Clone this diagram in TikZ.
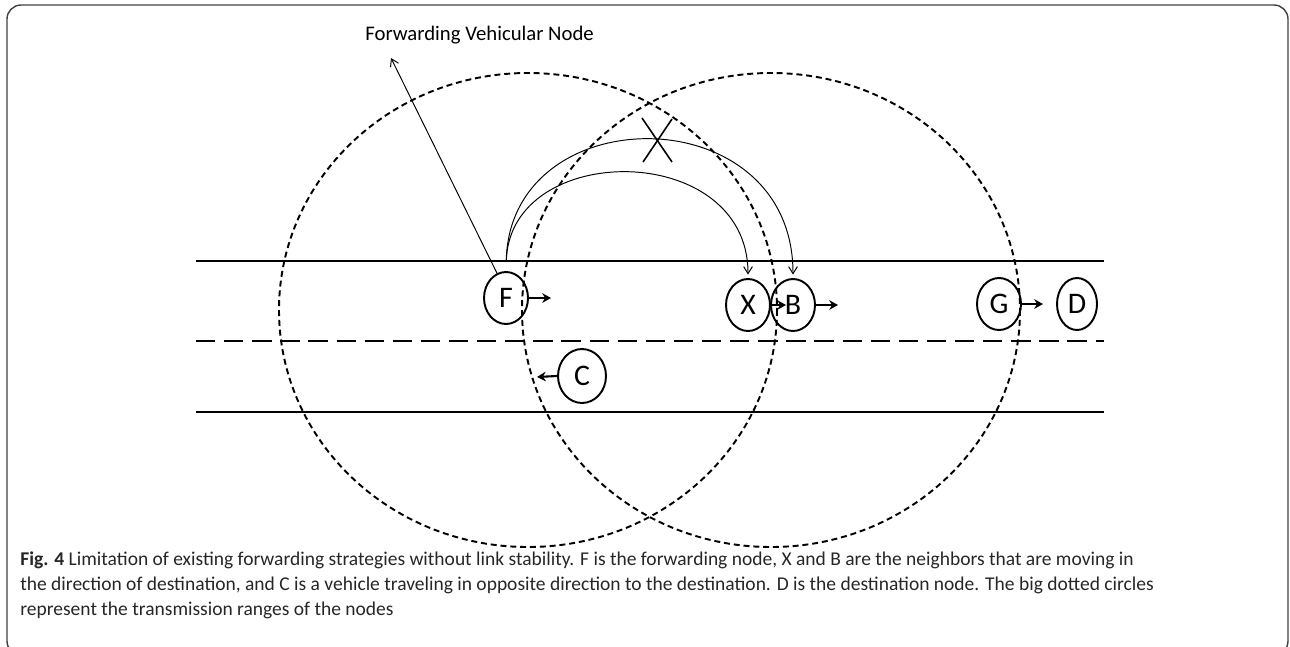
\documentclass[tikz,border=0pt]{standalone}
\usepackage{fontspec}
\setmainfont{Carlito}
\usetikzlibrary{shapes.geometric,arrows.meta}
\begin{document}
\begin{tikzpicture}[x=0.02cm,y=-0.02cm,
  veh/.style={draw, ellipse, line width=1.1pt, inner sep=0pt, minimum width=0.88cm, minimum height=1.04cm, font=\fontsize{17}{17}\selectfont},
  roadline/.style={line width=1.6pt},
  txrange/.style={line width=1.1pt, dash pattern=on 3.4pt off 2.2pt},
  vmove/.style={line width=1.2pt, -{Stealth[length=5pt,width=5.5pt]}},
  hoparc/.style={line width=0.55pt, -{Straight Barb[length=4pt,width=5pt]}},
  captxt/.style={anchor=base west, inner sep=0pt, font=\fontsize{11.1}{12}\selectfont, text=black!85}]
\useasboundingbox (0,0) rectangle (1290,646);
\begin{scope}
\clip (0,0) rectangle (1290,646);
\draw[line width=0.8pt, black!75, rounded corners=8pt] (7,5) rectangle (1288,655);
\end{scope}
% road
\draw[roadline] (196,261) -- (1104,261);
\draw[roadline] (196,412) -- (1104,412);
\draw[roadline, dash pattern=on 11pt off 5pt] (196,341) -- (1104,341);
% transmission ranges
\draw[txrange] (528,310) ellipse [x radius=249, y radius=237];
\draw[txrange] (771,310) ellipse [x radius=249, y radius=237];
% vehicles
\node[veh] (F) at (506,298) {F};
\node[veh] (X) at (748,305) {X};
\node[veh] (B) at (793,305) {B};
\node[veh] (G) at (999,304) {G};
\node[veh, minimum width=0.8cm] (D) at (1077,304) {D};
\node[veh, minimum width=0.96cm, minimum height=1.08cm] (C) at (582,376) {C};
% movement arrows
\coordinate (Fa) at (551,298);
\coordinate (Xa) at (786,305);
\coordinate (Ba) at (838,305);
\coordinate (Ga) at (1043,304);
\coordinate (Ca) at (537,377);
\draw[vmove] (F.east) -- (Fa);
\draw[vmove] (X.east) -- (Xa);
\draw[vmove] (B.east) -- (Ba);
\draw[vmove] (G.east) -- (Ga);
\draw[vmove] (C.west) -- (Ca);
% forwarding hops
\draw[hoparc, shorten <=6pt, shorten >=2pt] (F.north) .. controls (510,140) and (748,140) .. (X.north);
\draw[hoparc, shorten <=6pt, shorten >=2pt] (F.north) .. controls (510,96) and (793,96) .. (B.north);
% failed link cross
\draw[line width=0.9pt] (642,118) -- (672,162);
\draw[line width=0.9pt] (643,162) -- (672,119);
% label
\node[anchor=base west, inner sep=0pt, font=\fontsize{11.8}{13}\selectfont] (lab) at (365,40) {Forwarding Vehicular Node};
\coordinate (labtip) at (391,58);
\draw[hoparc] (F.110) -- (labtip);
% caption
\node[captxt] (c1) at (20,565) {\textbf{Fig. 4} Limitation of existing forwarding strategies without link stability. F is the forwarding node, X and B are the neighbors that are moving in};
\node[captxt] (c2) at (20,590) {the direction of destination, and C is a vehicle traveling in opposite direction to the destination. D is the destination node. The big dotted circles};
\node[captxt] (c3) at (20,615) {represent the transmission ranges of the nodes};
\end{tikzpicture}
\end{document}
